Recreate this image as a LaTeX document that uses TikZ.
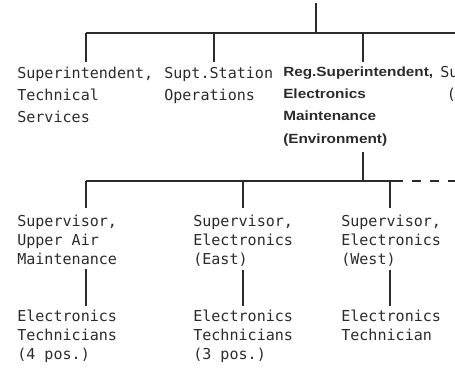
\documentclass[tikz,border=0pt]{standalone}
\usepackage{fontspec}
\setmonofont{DejaVu Sans Mono}
\newfontfamily\regfont[FakeStretch=1.15]{Liberation Sans}
\definecolor{ink}{HTML}{2B2B2B}
\tikzset{
  post/.style={font=\ttfamily\fontsize{11.3}{16.5}\selectfont, text=ink, align=left, anchor=north west, inner sep=0pt},
  staff/.style={post, font=\ttfamily\fontsize{11.3}{14.25}\selectfont},
  head/.style={post, font=\regfont\bfseries\fontsize{10}{16.7}\selectfont},
  link/.style={draw=ink, line width=0.85pt},
}
\begin{document}
\begin{tikzpicture}[x=0.75pt, y=-0.75pt]
    \useasboundingbox (0,0) rectangle (455,369);
    \clip (0,0) rectangle (455,369);
    \node[post] (tech) at (17,66.5) {Superintendent,\\Technical\\Services};
    \node[post] (ops) at (164,66.5) {Supt.Station\\Operations};
    \node[head] (reg) at (283,66.3) {Reg.Superintendent,\\Electronics\\Maintenance\\(Environment)};
    \node[post] (next) at (440,66.5) {Su\\\hspace*{5pt}(};
    \node[staff] (upper) at (17,215) {Supervisor,\\Upper Air\\Maintenance};
    \node[staff] (east) at (193,215) {Supervisor,\\Electronics\\(East)};
    \node[staff] (west) at (341,215) {Supervisor,\\Electronics\\(West)};
    \node[staff] (tech4) at (17,309.5) {Electronics\\Technicians\\(4 pos.)};
    \node[staff] (tech3) at (193,309.5) {Electronics\\Technicians\\(3 pos.)};
    \node[staff] (tech1) at (341,309.5) {Electronics\\Technician};
    \coordinate (root) at (316,3);
    \coordinate (a1) at (86,33);
    \coordinate (a2) at (214,33);
    \coordinate (a3) at (363,33);
    \coordinate (aend) at (455,33);
    \coordinate (b1) at (86,181);
    \coordinate (b2) at (243,181);
    \coordinate (b3) at (390,181);
    \coordinate (bsolid) at (403,181);
    \coordinate (bend) at (455,181);
    \draw[link] (root) -- (root |- a1);
    \draw[link] (a1) -- (aend);
    \foreach \d/\n in {a1/tech, a2/ops, a3/reg}
        \draw[link, shorten >=3.5pt] (\d) -- (\d |- \n.north);
    \draw[link, shorten <=4.5pt] (reg.south -| a3) -- (a3 |- b1);
    \draw[link] (b1) -- (bsolid);
    \draw[link, dash pattern=on 7pt off 6.5pt, dash phase=7pt] (bsolid) -- (bend);
    \foreach \d/\n in {b1/upper, b2/east, b3/west}
        \draw[link, shorten >=5pt] (\d) -- (\d |- \n.north);
    \foreach \u/\l/\d in {upper/tech4/b1, east/tech3/b2, west/tech1/b3}
        \draw[link, shorten <=2.5pt, shorten >=2.6pt] (\u.south -| \d) -- (\l.north -| \d);
\end{tikzpicture}
\end{document}
